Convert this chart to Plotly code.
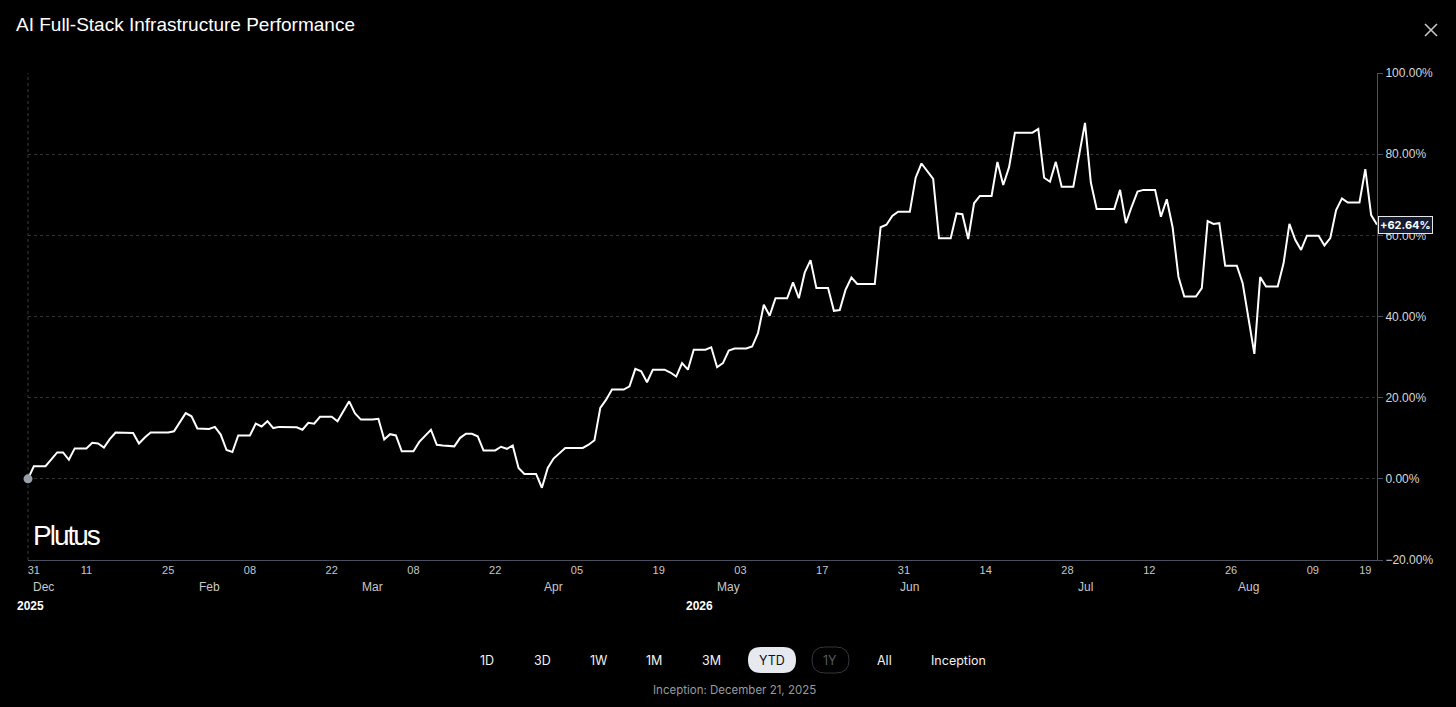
import plotly.graph_objs as go

# YTD performance, % change (vertices)
dates = [
    "2026-01-01", "2026-01-02", "2026-01-04", "2026-01-06", "2026-01-07", "2026-01-08", "2026-01-09",
    "2026-01-11", "2026-01-12", "2026-01-13", "2026-01-14", "2026-01-15", "2026-01-16", "2026-01-19",
    "2026-01-20", "2026-01-21", "2026-01-22", "2026-01-25", "2026-01-26", "2026-01-28", "2026-01-29",
    "2026-01-30", "2026-02-01", "2026-02-02", "2026-02-03", "2026-02-04", "2026-02-05", "2026-02-06",
    "2026-02-08", "2026-02-09", "2026-02-10", "2026-02-11", "2026-02-12", "2026-02-13", "2026-02-16",
    "2026-02-17", "2026-02-18", "2026-02-19", "2026-02-20", "2026-02-22", "2026-02-23", "2026-02-25",
    "2026-02-26", "2026-02-27", "2026-03-01", "2026-03-02", "2026-03-03", "2026-03-04", "2026-03-05",
    "2026-03-06", "2026-03-08", "2026-03-09", "2026-03-11", "2026-03-12", "2026-03-13", "2026-03-15",
    "2026-03-16", "2026-03-17", "2026-03-18", "2026-03-19", "2026-03-20", "2026-03-22", "2026-03-23",
    "2026-03-24", "2026-03-25", "2026-03-26", "2026-03-27", "2026-03-29", "2026-03-30", "2026-03-31",
    "2026-04-01", "2026-04-03", "2026-04-06", "2026-04-07", "2026-04-08", "2026-04-09", "2026-04-10",
    "2026-04-11", "2026-04-13", "2026-04-14", "2026-04-15", "2026-04-16", "2026-04-17", "2026-04-18",
    "2026-04-20", "2026-04-21", "2026-04-22", "2026-04-23", "2026-04-24", "2026-04-25", "2026-04-27",
    "2026-04-28", "2026-04-29", "2026-04-30", "2026-05-01", "2026-05-02", "2026-05-04", "2026-05-05",
    "2026-05-06", "2026-05-07", "2026-05-08", "2026-05-09", "2026-05-11", "2026-05-12", "2026-05-13",
    "2026-05-14", "2026-05-15", "2026-05-16", "2026-05-18", "2026-05-19", "2026-05-20", "2026-05-21",
    "2026-05-22", "2026-05-23", "2026-05-26", "2026-05-27", "2026-05-28", "2026-05-29", "2026-05-30",
    "2026-06-01", "2026-06-02", "2026-06-03", "2026-06-05", "2026-06-06", "2026-06-08", "2026-06-09",
    "2026-06-10", "2026-06-11", "2026-06-12", "2026-06-13", "2026-06-15", "2026-06-16", "2026-06-17",
    "2026-06-18", "2026-06-19", "2026-06-22", "2026-06-23", "2026-06-24", "2026-06-25", "2026-06-26",
    "2026-06-27", "2026-06-29", "2026-07-01", "2026-07-02", "2026-07-03", "2026-07-06", "2026-07-07",
    "2026-07-08", "2026-07-09", "2026-07-10", "2026-07-11", "2026-07-13", "2026-07-14", "2026-07-15",
    "2026-07-16", "2026-07-17", "2026-07-18", "2026-07-20", "2026-07-21", "2026-07-22", "2026-07-23",
    "2026-07-24", "2026-07-25", "2026-07-27", "2026-07-28", "2026-07-29", "2026-07-30", "2026-07-31",
    "2026-08-01", "2026-08-03", "2026-08-04", "2026-08-05", "2026-08-06", "2026-08-07", "2026-08-08",
    "2026-08-10", "2026-08-11", "2026-08-12", "2026-08-13", "2026-08-14", "2026-08-15", "2026-08-17",
    "2026-08-18", "2026-08-19", "2026-08-20",
]
perf = [
    0.0, 3.1, 3.1, 6.5, 6.5, 4.7, 7.5,
    7.5, 8.9, 8.7, 7.7, 9.8, 11.4, 11.3,
    8.7, 10.2, 11.4, 11.4, 11.7, 16.2, 15.4,
    12.4, 12.3, 12.8, 10.9, 7.1, 6.6, 10.7,
    10.7, 13.6, 12.9, 14.2, 12.5, 12.8, 12.7,
    12.1, 13.8, 13.6, 15.3, 15.3, 14.2, 19.1,
    16.1, 14.6, 14.6, 14.8, 9.7, 11.0, 10.7,
    6.8, 6.8, 9.1, 12.1, 8.4, 8.2, 8.0,
    10.1, 11.1, 11.1, 10.5, 7.0, 7.0, 7.9,
    7.4, 8.2, 2.7, 1.2, 1.2, -2.2, 2.7,
    5.0, 7.6, 7.6, 8.4, 9.5, 17.5, 19.5,
    22.0, 22.0, 22.8, 27.1, 26.5, 23.8, 26.9,
    26.9, 26.2, 25.2, 28.5, 26.9, 31.8, 31.8,
    32.4, 27.5, 28.5, 31.6, 32.1, 32.1, 32.6,
    35.9, 42.9, 40.2, 44.5, 44.5, 48.4, 44.5,
    50.8, 53.9, 47.0, 47.0, 41.4, 41.6, 46.6,
    49.6, 48.0, 48.0, 62.0, 62.6, 64.8, 65.8,
    65.8, 74.2, 77.7, 73.9, 59.3, 59.3, 65.4,
    65.2, 59.1, 67.9, 69.7, 69.7, 78.1, 72.4,
    76.8, 85.3, 85.3, 86.2, 74.2, 73.2, 78.1,
    72.0, 72.0, 87.7, 73.0, 66.5, 66.5, 71.2,
    63.0, 67.1, 70.8, 71.2, 71.2, 64.6, 68.9,
    62.0, 49.8, 44.9, 44.9, 47.0, 63.5, 62.8,
    63.0, 52.5, 52.5, 48.2, 40.0, 30.8, 49.7,
    47.4, 47.4, 53.1, 62.8, 58.9, 56.4, 59.9,
    59.9, 57.5, 59.3, 66.2, 69.1, 68.1, 68.1,
    76.3, 65.0, 62.64,
]

tick_dates = ["2026-01-02", "2026-01-11", "2026-01-25", "2026-02-08", "2026-02-22", "2026-03-08",
              "2026-03-22", "2026-04-05", "2026-04-19", "2026-05-03", "2026-05-17", "2026-05-31",
              "2026-06-14", "2026-06-28", "2026-07-12", "2026-07-26", "2026-08-09", "2026-08-18"]
tick_text = ["31", "11", "25", "08", "22", "08", "22", "05", "19", "03", "17", "31",
             "14", "28", "12", "26", "09", "19"]
month_dates = ["2026-01-01", "2026-02-01", "2026-03-01", "2026-04-01", "2026-05-01",
               "2026-06-01", "2026-07-01", "2026-07-29"]
month_text = ["Dec", "Feb", "Mar", "Apr", "May", "Jun", "Jul", "Aug"]
ranges = ["1D", "3D", "1W", "1M", "3M", "YTD", "1Y", "All", "Inception"]
range_x = [487, 542, 598, 654, 711, 772, 830, 884, 958]

W, H = 1456, 707
L, R, T, B = 28, 79, 73, 147


def px(x):
    return (x - L) / (W - L - R)


def py(y):
    return (H - B - y) / (H - T - B)


def pill(x0, y0, x1, y1, r):
    pts = [("M", [(x0 + r, y0)]), ("L", [(x1 - r, y0)]), ("Q", [(x1, y0), (x1, y0 + r)]),
           ("L", [(x1, y1 - r)]), ("Q", [(x1, y1), (x1 - r, y1)]), ("L", [(x0 + r, y1)]),
           ("Q", [(x0, y1), (x0, y1 - r)]), ("L", [(x0, y0 + r)]), ("Q", [(x0, y0), (x0 + r, y0)])]
    s = ""
    for cmd, coords in pts:
        s += cmd + " " + " ".join(f"{px(a):.5f},{py(b):.5f}" for a, b in coords) + " "
    return s + "Z"


fig = go.Figure()
fig.add_trace(go.Scatter(x=dates, y=perf, mode="lines",
                         line=dict(color="#ffffff", width=2), hoverinfo="skip"))
fig.add_trace(go.Scatter(x=[dates[0]], y=[perf[0]], mode="markers", cliponaxis=False,
                         marker=dict(color="#9aa0a8", size=9), hoverinfo="skip"))

narrow = "Liberation Sans Narrow, Liberation Sans"
annotations = []
for d, m in zip(month_dates, month_text):
    annotations.append(dict(x=d, xref="x", y=py(587), yref="paper", text=m, showarrow=False,
                            xanchor="left" if m == "Dec" else "center", yanchor="middle",
                            xshift=3 if m == "Dec" else 0,
                            font=dict(family=narrow, size=12, color="#c8c8c8")))
annotations.append(dict(x=px(15), xref="paper", y=py(606), yref="paper", text="<b>2025</b>", showarrow=False,
                        xanchor="left", yanchor="middle", font=dict(family=narrow, size=12, color="#ffffff")))
annotations.append(dict(x="2026-04-26", xref="x", y=py(606), yref="paper", text="<b>2026</b>", showarrow=False,
                        xanchor="center", yanchor="middle", font=dict(family=narrow, size=12, color="#ffffff")))
annotations.append(dict(x=px(31), xref="paper", y=py(535), yref="paper",
                        text='<span style="letter-spacing:-2px">Plutus</span>', showarrow=False,
                        xanchor="left", yanchor="middle", font=dict(family=narrow, size=28, color="#ffffff")))
annotations.append(dict(x=1, xref="paper", y=perf[-1], yref="y", text=f"<b>+{perf[-1]:.2f}%</b>",
                        showarrow=False, xanchor="left", yanchor="middle", xshift=1,
                        bgcolor="#151b30", bordercolor="#e6e6e6", borderwidth=1, borderpad=1,
                        font=dict(family="Inter, Liberation Sans", size=11, color="#ffffff")))
for label, bx in zip(ranges, range_x):
    col = "#111111" if label == "YTD" else ("#555a63" if label == "1Y" else "#f2f2f2")
    annotations.append(dict(x=px(bx), xref="paper", y=py(660), yref="paper", text=label, showarrow=False,
                            xanchor="center", yanchor="middle",
                            font=dict(family="Inter, Liberation Sans", size=12.5, color=col)))
annotations.append(dict(x=px(734), xref="paper", y=py(690), yref="paper",
                        text="Inception: December 21, 2025", showarrow=False, xanchor="center", yanchor="middle",
                        font=dict(family="Inter, Liberation Sans", size=11.5, color="#9a9a9a")))

shapes = [
    dict(type="line", xref="paper", yref="paper", x0=0, x1=0, y0=0, y1=1,
         line=dict(color="#3a3a3a", width=1, dash="3px,3px"), layer="below"),
    dict(type="path", xref="paper", yref="paper", path=pill(748, 647, 796, 673, 13),
         fillcolor="#e6e9ef", line=dict(width=0), layer="below"),
    dict(type="path", xref="paper", yref="paper", path=pill(812, 647, 849, 673, 13),
         fillcolor="rgba(0,0,0,0)", line=dict(color="#33363d", width=1), layer="below"),
    dict(type="line", xref="paper", yref="paper", x0=px(1425), x1=px(1437), y0=py(24), y1=py(36),
         line=dict(color="#c8c8c8", width=1.6)),
    dict(type="line", xref="paper", yref="paper", x0=px(1425), x1=px(1437), y0=py(36), y1=py(24),
         line=dict(color="#c8c8c8", width=1.6)),
]

fig.update_layout(
    width=W, height=H,
    paper_bgcolor="#000000", plot_bgcolor="#000000",
    margin=dict(l=L, r=R, t=T, b=B),
    showlegend=False,
    title=dict(text="AI Full-Stack Infrastructure Performance", xref="container", x=16 / W, xanchor="left",
               yref="container", y=1 - 24 / H, yanchor="middle",
               font=dict(family="Liberation Sans, Arial", size=19, color="#ffffff")),
    xaxis=dict(type="date", range=[dates[0], dates[-1]], tickvals=tick_dates, ticktext=tick_text,
               showgrid=False, zeroline=False, showline=True, linecolor="#4a5060", linewidth=1,
               ticks="", tickfont=dict(family=narrow, size=11, color="#c8c8c8")),
    yaxis=dict(side="right", range=[-20, 100], dtick=20, tick0=0, tickformat=".2f", ticksuffix="%",
               showgrid=True, gridcolor="#333333", griddash="3px,3px", zeroline=False,
               showline=True, linecolor="#4a5060", linewidth=1, ticks="outside", ticklen=5,
               tickcolor="#4a5060",
               tickfont=dict(family="Liberation Sans, Arial", size=12, color="#d8d8d8")),
    annotations=annotations,
    shapes=shapes,
)

fig.write_html("out.html", config={"displayModeBar": False},
               post_script="document.body.style.margin='0';document.body.style.background='#000';")
